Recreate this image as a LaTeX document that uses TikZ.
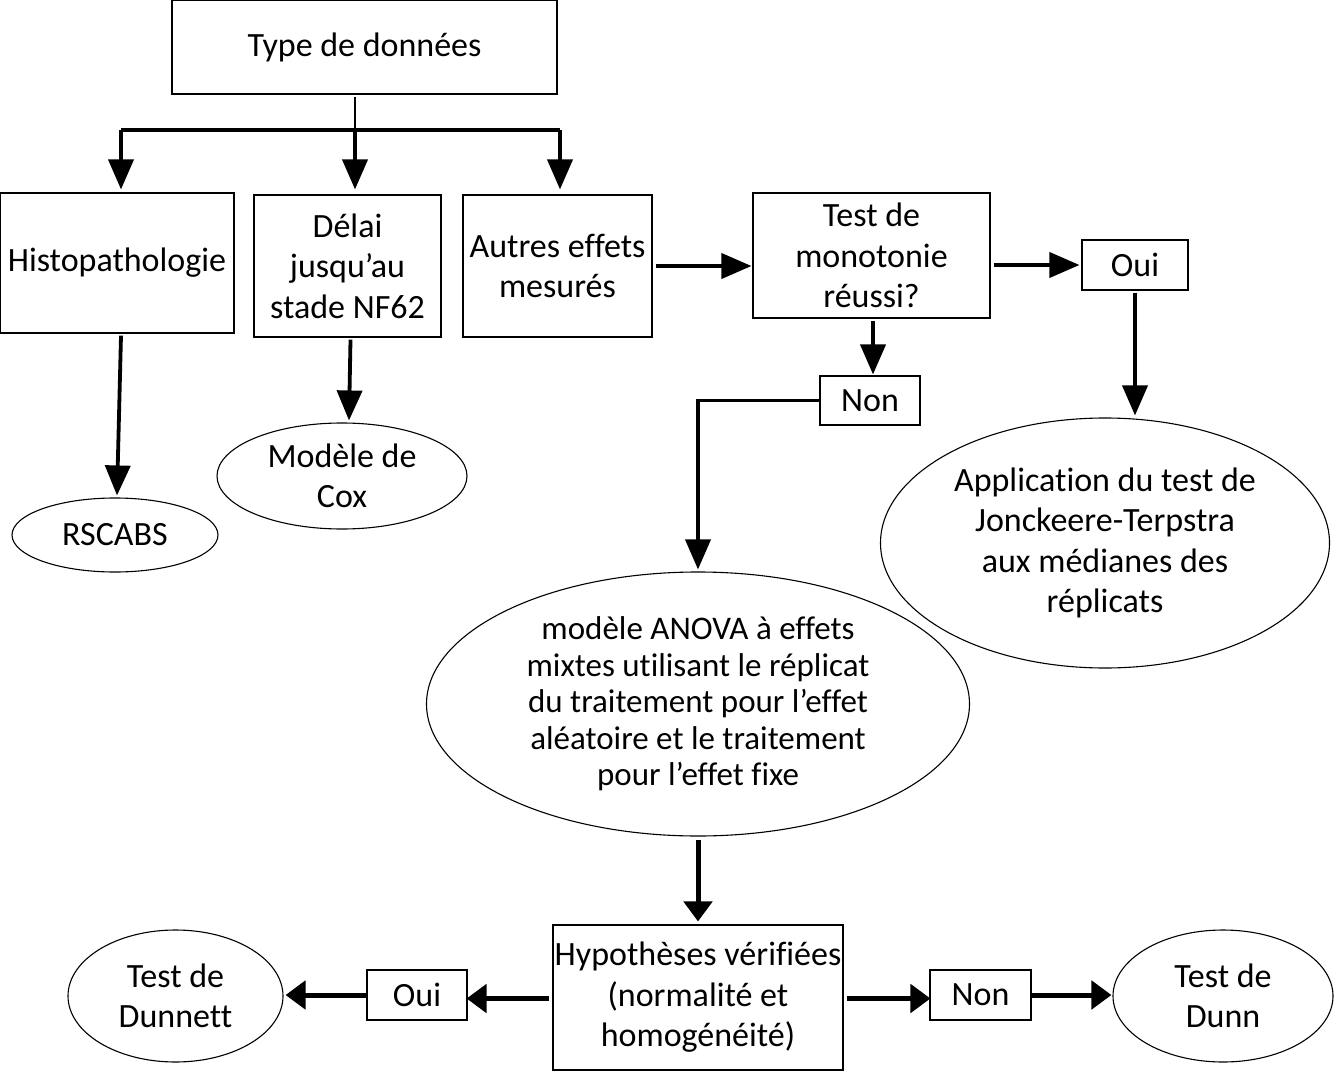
\documentclass[tikz,border=0pt]{standalone}
\usepackage{fontspec}
\setmainfont{Carlito}[Ligatures=NoCommon]
\usetikzlibrary{arrows.meta,shapes.geometric}
\begin{document}
\begin{tikzpicture}[x=1pt,y=-1pt,
  base/.style={draw=black,line width=1.1pt,inner sep=0pt,align=center,
    font=\fontsize{34}{40.5}\selectfont},
  box/.style={base,rectangle},
  oval/.style={base,ellipse},
  arr/.style={line width=3.8pt,-{Triangle[width=25pt,length=30pt]}},
  arrb/.style={line width=5pt,-{Triangle[width=28pt,length=20pt]}},
  thinln/.style={line width=1.6pt},
  thickln/.style={line width=3.2pt}]
\useasboundingbox (0,0) rectangle (1335,1075);
% boxes
\node[box,minimum width=385pt,minimum height=94pt] (type) at (364.5,47) {Type de données};
\node[box,minimum width=234pt,minimum height=140pt] (histo) at (117,263) {Histopathologie};
\node[box,minimum width=187pt,minimum height=142pt] (delai) at (347.5,266) {Délai\\jusqu’au\\stade NF62};
\node[box,minimum width=189pt,minimum height=142pt] (autres) at (557.5,266) {Autres effets\\mesurés};
\node[box,minimum width=237pt,minimum height=125pt] (test) at (871.5,255.5) {Test de\\monotonie\\réussi?};
\node[box,minimum width=106pt,minimum height=50pt] (ouiA) at (1135,265) {Oui};
\node[box,minimum width=100pt,minimum height=49pt] (nonA) at (870,400.5) {Non};
\node[box,minimum width=290pt,minimum height=145pt] (hyp) at (698,997.5) {Hypothèses vérifiées\\(normalité et\\homogénéité)};
\node[box,minimum width=100pt,minimum height=50pt] (ouiB) at (417,995) {Oui};
\node[box,minimum width=101pt,minimum height=50pt] (nonB) at (980.5,995) {Non};
% ellipses
\node[oval,minimum width=206pt,minimum height=74pt] (rscabs) at (115,535) {RSCABS};
\node[oval,minimum width=250pt,minimum height=106pt] (cox) at (342,476) {Modèle de\\Cox};
\node[oval,minimum width=449pt,minimum height=250pt] (appl) at (1105,543) {Application du test de\\Jonckeere-Terpstra\\aux médianes des\\réplicats};
\node[oval,minimum width=543pt,minimum height=264pt,font=\fontsize{33}{36.5}\selectfont] (anova) at (698,704) {modèle ANOVA à effets\\mixtes utilisant le réplicat\\du traitement pour l’effet\\aléatoire et le traitement\\pour l’effet fixe};
\node[oval,minimum width=215pt,minimum height=132pt] (dunnett) at (175.5,996) {Test de\\Dunnett};
\node[oval,minimum width=220pt,minimum height=132pt] (dunn) at (1223,996) {Test de\\Dunn};
% connectors
\coordinate (jm) at (355,130);
\coordinate (jl) at (121,130);
\coordinate (jr) at (560,130);
\draw[thinln] ([yshift=-2pt]type.south -| jm) -- (jm);
\draw[thickln] (jl) -- (jr);
\draw[arr] (jl) -- ([yshift=3pt]histo.north -| jl);
\draw[arr] (jm) -- ([yshift=5pt]delai.north -| jm);
\draw[arr] (jr) -- ([yshift=5pt]autres.north -| jr);
\draw[arr] ([xshift=3pt]autres.east) -- ([xshift=-1pt]autres.east -| test.west);
\draw[arr] ([xshift=3pt]ouiA.west -| test.east) -- ([xshift=-2pt]ouiA.west);
\draw[arr] ([yshift=-2pt]ouiA.south) -- ([yshift=2pt]ouiA.south |- appl.north);
\draw[arr] ([xshift=1.5pt,yshift=-2pt]test.south) -- ([xshift=1.5pt,yshift=1pt]test.south |- nonA.north);
\draw[arr] (nonA.west) -| ([yshift=2pt]anova.north);
\draw[arr] ([xshift=4pt,yshift=-2pt]histo.south) -- ([xshift=2pt,yshift=2pt]rscabs.north);
\draw[arr] ([xshift=3pt,yshift=-2pt]delai.south) -- ([xshift=7pt,yshift=2pt]cox.north);
\draw[arrb] ([yshift=-3pt]anova.south) -- ([yshift=3pt]hyp.north);
\draw[arrb] ([xshift=-3pt,yshift=-1pt]hyp.west) -- ([xshift=-1pt,yshift=-1pt]hyp.west -| ouiB.east);
\draw[arrb] (ouiB.west) -- ([xshift=2pt]ouiB.west -| dunnett.east);
\draw[arrb] ([xshift=3pt,yshift=-1pt]hyp.east) -- ([xshift=1pt,yshift=-1pt]hyp.east -| nonB.west);
\draw[arrb] (nonB.east) -- ([xshift=-1pt]nonB.east -| dunn.west);
\end{tikzpicture}
\end{document}
